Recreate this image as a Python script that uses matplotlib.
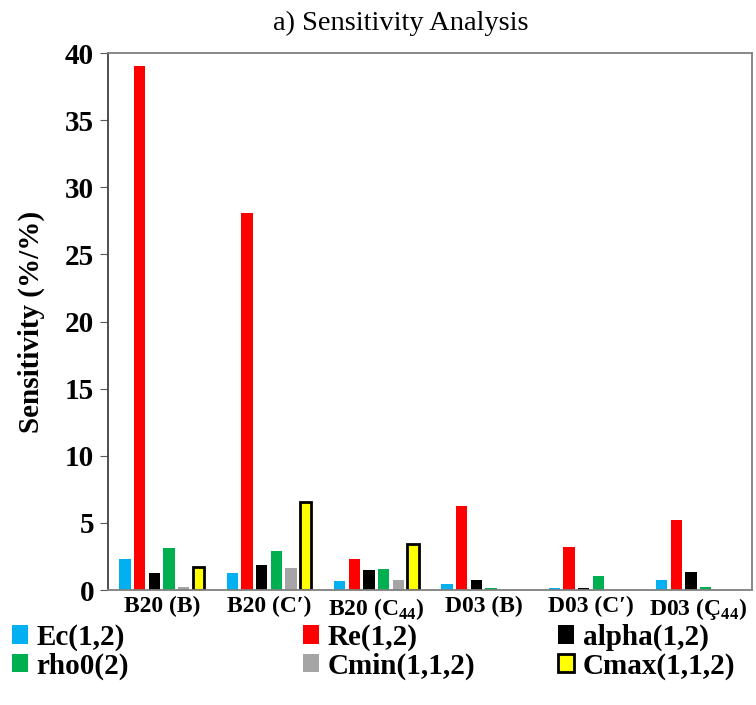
import matplotlib.pyplot as plt
import numpy as np
from matplotlib.patches import Patch

plt.rcParams['font.family'] = ['Liberation Serif', 'DejaVu Serif']
plt.rcParams['mathtext.fontset'] = 'custom'
plt.rcParams['mathtext.rm'] = 'Liberation Serif:bold'
plt.rcParams['mathtext.bf'] = 'Liberation Serif:bold'

# Casos (fase y constante elástica)
casos = ["B20 (B)", "B20 (C\u2032)", "B20 (C$_{44}$)",
         "D03 (B)", "D03 (C\u2032)", "D03 (\u00c7$_{44}$)"]

# Sensibilidad de cada parámetro por caso
ec = [2.33, 1.24, 0.67, 0.42, 0.12, 0.74]
re = [39.0, 28.1, 2.28, 6.28, 3.2, 5.19]
alpha = [1.24, 1.89, 1.46, 0.74, 0.12, 1.32]
rho0 = [3.13, 2.93, 1.54, 0.12, 1.02, 0.22]
cmin = [0.2, 1.61, 0.74, 0.0, 0.0, 0.0]
cmax = [1.75, 6.55, 3.43, 0.0, 0.0, 0.0]

nombres = ["Ec(1,2)", "Re(1,2)", "alpha(1,2)", "rho0(2)", "Cmin(1,1,2)", "Cmax(1,1,2)"]
colores = ["#00B0F0", "#FF0000", "#000000", "#00B050", "#A5A5A5", "#FFFF00"]
series = [ec, re, alpha, rho0, cmin, cmax]

fig = plt.figure(figsize=(7.56, 7.05), dpi=100)
ax = fig.add_axes([0.1429, 0.1631, 0.8518, 0.7617])

x = np.arange(len(casos))
paso = 0.137
ancho = 0.105
for j, (vals, col) in enumerate(zip(series, colores)):
    pos = x + (j - 2.5) * paso
    if nombres[j].startswith("Cmax"):
        # solo se dibujan las barras con valor
        v = np.array(vals)
        m = v > 0
        ax.bar(pos[m], v[m], ancho, color=col, edgecolor="black", linewidth=2)
    else:
        ax.bar(pos, vals, ancho, color=col, linewidth=0)

ax.set_xlim(-0.5, 5.5)
ax.set_ylim(0, 40)
ax.set_yticks(range(0, 41, 5))
ax.set_xticks(x)
ax.set_xticklabels(casos, fontsize=17, fontweight="bold")
ax.tick_params(axis="x", length=0, pad=4)
ax.tick_params(axis="y", labelsize=21, length=6, color="#595959", pad=4)
for t in ax.get_yticklabels():
    t.set_fontweight("bold")
for s in ax.spines.values():
    s.set_color("#7f7f7f")
    s.set_linewidth(1.3)
ax.spines["left"].set_color("#404040")

ax.set_ylabel("Sensitivity (%/%)", fontsize=21, fontweight="bold", labelpad=14)
fig.text(401 / 756, 1 - 23 / 705, "a) Sensitivity Analysis", fontsize=20.5,
         ha="center", va="center")

# Leyenda: tres columnas de dos filas con posiciones fijas
columnas = [(0, 3), (1, 4), (2, 5)]
x_col = [0.0, 0.385, 0.723]
for (a, b), xc in zip(columnas, x_col):
    handles = []
    for k in (a, b):
        if nombres[k].startswith("Cmax"):
            handles.append(Patch(facecolor=colores[k], edgecolor="black", linewidth=2, label=nombres[k]))
        else:
            handles.append(Patch(facecolor=colores[k], linewidth=0, label=nombres[k]))
    fig.legend(handles=handles, loc="upper left", bbox_to_anchor=(xc, 0.132),
               ncol=1, frameon=False, prop={"size": 21, "weight": "bold"},
               handlelength=0.55, handleheight=0.6, handletextpad=0.3,
               labelspacing=0.05, borderaxespad=0.0)

plt.savefig("out.png", dpi=100)
